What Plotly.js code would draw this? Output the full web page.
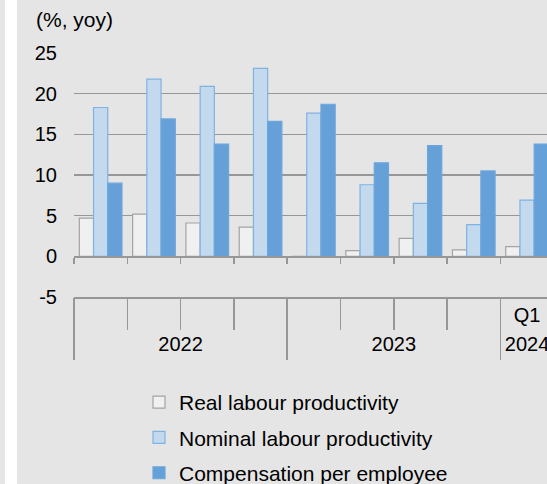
<!DOCTYPE html>
<html>
<head>
<meta charset="utf-8">
<script src="https://cdn.plot.ly/plotly-3.0.1.min.js"></script>
<style>
  html, body { margin: 0; padding: 0; background: #e5e5e5; width: 547px; height: 484px; overflow: hidden; }
  #strip { position: absolute; left: 5px; top: 0; width: 12px; height: 484px; background: #ffffff; }
  #chart { position: absolute; left: 17px; top: 0; width: 530px; height: 484px; }
</style>
</head>
<body>
<div id="strip"></div>
<div id="chart"></div>
<script>
// ---- data ----
const quarters = ['', '', '', '', '', '', '', '', 'Q1'];
const years = ['2022', '2022', '2022', '2022', '2023', '2023', '2023', '2023', '2024'];
const realProductivity = [4.7, 5.2, 4.1, 3.6, -0.1, 0.7, 2.2, 0.8, 1.2];
const nominalProductivity = [18.3, 21.8, 20.9, 23.1, 17.6, 8.8, 6.5, 3.9, 6.9];
const compensation = [9.0, 16.9, 13.8, 16.6, 18.7, 11.5, 13.6, 10.5, 13.8];
const seriesNames = ['Real labour productivity', 'Nominal labour productivity', 'Compensation per employee'];
const yTicks = [-5, 0, 5, 10, 15, 20, 25];
const yTickText = ['-5', '0', '5', '10', '15', '20', '25'];

// ---- derived positions (indices) ----
const idx = quarters.map((_, i) => i);
const quarterBounds = idx.map(i => i - 0.5).concat([quarters.length - 0.5]);
const yearStarts = [], yearEnds = [], yearNames = [];
years.forEach((y, i) => {
  if (i === 0 || years[i - 1] !== y) { yearStarts.push(i); yearNames.push(y); yearEnds.push(i); }
  else { yearEnds[yearEnds.length - 1] = i; }
});
const yearCenters = yearStarts.map((s, k) => (s + yearEnds[k]) / 2);
const yearBounds = yearStarts.map(s => s - 0.5);

const xRange = [-0.5, 8.374];
const gridCol = '#979797';
const font = 'Liberation Sans, Arial, sans-serif';

const traces = [
  { type: 'bar', x: idx, y: realProductivity, name: seriesNames[0], legendgroup: 'a',
    marker: { color: '#f0f0f0', line: { color: '#a3a3a3', width: 1.2 } } },
  { type: 'bar', x: idx, y: nominalProductivity, name: seriesNames[1], legendgroup: 'b',
    marker: { color: '#c3d9ee', line: { color: '#80b2e2', width: 1.2 } } },
  { type: 'bar', x: idx, y: compensation, name: seriesNames[2], legendgroup: 'c',
    marker: { color: '#65a0d8', line: { color: '#6ea6db', width: 1.2 } } }
];

const layout = {
  width: 530, height: 484,
  margin: { l: 57, r: 0, t: 53, b: 187, pad: 0, autoexpand: false },
  paper_bgcolor: '#e5e5e5', plot_bgcolor: '#e5e5e5',
  font: { family: font, color: '#000000', size: 20 },
  barmode: 'group', bargap: 0.2, bargroupgap: 0,
  title: { text: '(%, yoy)', font: { family: font, size: 21, color: '#000' },
           xref: 'container', x: 19 / 530, xanchor: 'left',
           yref: 'container', y: 1 - 20 / 484, yanchor: 'middle', automargin: false },
  xaxis: {
    range: xRange, fixedrange: true, showgrid: false, zeroline: false, automargin: false,
    showline: true, linecolor: gridCol, linewidth: 1.5,
    tickmode: 'array', tickvals: idx, ticktext: quarters, ticks: '', tickangle: 0,
    ticklabeloverflow: 'allow',
    tickfont: { size: 20, color: '#000' }, ticklabelstandoff: -1,
    minor: { tickmode: 'array', tickvals: quarterBounds, ticks: 'outside', ticklen: 31,
             tickcolor: gridCol, tickwidth: 1.5, showgrid: false }
  },
  xaxis2: {
    overlaying: 'x', anchor: 'free', position: 5 / 30, range: xRange, fixedrange: true,
    showgrid: false, zeroline: false, showline: true, linecolor: gridCol, linewidth: 1.5,
    automargin: false,
    tickmode: 'array', tickvals: quarterBounds, ticks: 'outside', ticklen: 6,
    tickcolor: gridCol, tickwidth: 1.5, showticklabels: false
  },
  xaxis3: {
    overlaying: 'x', anchor: 'y', side: 'bottom', range: xRange, fixedrange: true,
    showgrid: false, zeroline: false, showline: false, automargin: false,
    tickmode: 'array', tickvals: yearCenters, ticktext: yearNames, ticks: '', tickangle: 0,
    ticklabeloverflow: 'allow',
    tickfont: { size: 20, color: '#000' }, ticklabelstandoff: 33,
    minor: { tickmode: 'array', tickvals: yearBounds, ticks: 'outside', ticklen: 62,
             tickcolor: gridCol, tickwidth: 1.5, showgrid: false }
  },
  yaxis: {
    range: [-5, 25], fixedrange: true, tickmode: 'array', tickvals: yTicks, ticktext: yTickText,
    showgrid: true, gridcolor: gridCol, gridwidth: 1.5, zeroline: false, showline: false,
    automargin: false,
    ticks: '', tickfont: { size: 20, color: '#000' }, ticklabelstandoff: 16
  },
  showlegend: true,
  legend: {
    orientation: 'v', traceorder: 'grouped', tracegroupgap: 5,
    xref: 'container', x: 122 / 530, xanchor: 'left',
    yref: 'container', y: 1 - 382 / 484, yanchor: 'top',
    bgcolor: 'rgba(0,0,0,0)', font: { size: 21, color: '#000' }
  }
};

// placeholder traces so the overlay axes are drawn
const axisTraces = [
  { type: 'scatter', x: [0], y: [null], xaxis: 'x2', yaxis: 'y', showlegend: false, hoverinfo: 'skip' },
  { type: 'scatter', x: [0], y: [null], xaxis: 'x3', yaxis: 'y', showlegend: false, hoverinfo: 'skip' }
];

Plotly.newPlot('chart', traces.concat(axisTraces), layout, { displayModeBar: false, staticPlot: true });
</script>
</body>
</html>
